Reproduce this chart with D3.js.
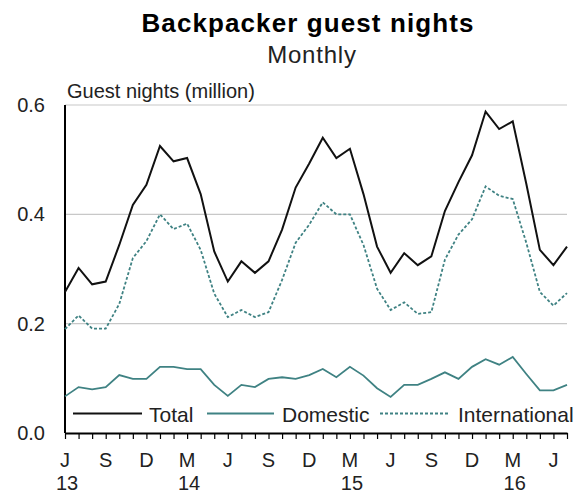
<!DOCTYPE html>
<html><head><meta charset="utf-8">
<script src="https://cdn.jsdelivr.net/npm/d3@7"></script>
<style>
html,body{margin:0;padding:0;background:#fff;}
svg{display:block;font-family:"Liberation Sans",Arial,sans-serif;}
</style></head>
<body>
<svg id="chart" width="576" height="495"></svg>
<script>
// Months from Jun 2013 to Jul 2016
const months = ["Jun 13","Jul 13","Aug 13","Sep 13","Oct 13","Nov 13","Dec 13","Jan 14","Feb 14","Mar 14","Apr 14","May 14",
 "Jun 14","Jul 14","Aug 14","Sep 14","Oct 14","Nov 14","Dec 14","Jan 15","Feb 15","Mar 15","Apr 15","May 15",
 "Jun 15","Jul 15","Aug 15","Sep 15","Oct 15","Nov 15","Dec 15","Jan 16","Feb 16","Mar 16","Apr 16","May 16",
 "Jun 16","Jul 16"];
const total = [0.258,0.302,0.272,0.277,0.344,0.417,0.454,0.525,0.497,0.503,0.437,0.332,
 0.277,0.314,0.293,0.314,0.372,0.449,0.493,0.540,0.503,0.520,0.437,0.341,
 0.293,0.329,0.307,0.323,0.406,0.459,0.508,0.588,0.556,0.570,0.456,0.335,
 0.307,0.341];
const domestic = [0.067,0.084,0.080,0.084,0.106,0.099,0.099,0.121,0.121,0.117,0.117,0.088,
 0.068,0.088,0.084,0.099,0.102,0.099,0.106,0.117,0.102,0.121,0.105,0.082,
 0.066,0.088,0.088,0.099,0.111,0.099,0.121,0.135,0.125,0.139,0.108,0.078,
 0.078,0.088];
const international = [0.190,0.215,0.191,0.191,0.236,0.320,0.351,0.400,0.373,0.383,0.335,0.255,
 0.212,0.225,0.212,0.221,0.280,0.348,0.381,0.422,0.400,0.400,0.344,0.264,
 0.225,0.239,0.218,0.221,0.317,0.363,0.391,0.451,0.434,0.428,0.348,0.258,
 0.233,0.256];
const yTicks = [0, 0.2, 0.4, 0.6];
const xTickLabels = ["J","S","D","M","J","S","D","M","J","S","D","M","J"];
const xTickIdx = [0,3,6,9,12,15,18,21,24,27,30,33,36];
const yearLabels = ["13","14","15","16"];
const yearIdx = [0,9,21,33];
const seriesNames = ["Total","Domestic","International"];

const svg = d3.select("#chart");
const L = 65, R = 567, T = 105, B = 433;
const x = d3.scaleLinear().domain([0, months.length - 1]).range([L, R]);
const y = d3.scaleLinear().domain([0, 0.6]).range([B, T]);

// title
svg.append("text").attr("x", 308).attr("y", 32).attr("text-anchor", "middle")
  .attr("font-size", 26).attr("font-weight", "bold").attr("letter-spacing", 1.1).attr("fill", "#000").text("Backpacker guest nights");
svg.append("text").attr("x", 312).attr("y", 63).attr("text-anchor", "middle")
  .attr("font-size", 24).attr("letter-spacing", 0.8).attr("fill", "#222").text("Monthly");
svg.append("text").attr("x", 67).attr("y", 98).attr("font-size", 20).attr("fill", "#222")
  .text("Guest nights (million)");

// gridlines
svg.append("g").selectAll("line").data(yTicks.filter(d => d > 0)).join("line")
  .attr("x1", L).attr("x2", R).attr("y1", d => y(d)).attr("y2", d => y(d))
  .attr("stroke", "#c8c8c8").attr("stroke-width", 1.2);

// y axis labels
const yAxis = d3.axisLeft(y).tickValues(yTicks).tickFormat(d3.format(".1f")).tickSize(0).tickPadding(20);
const gy = svg.append("g").attr("transform", `translate(${L},0)`).call(yAxis);
gy.select(".domain").remove();
gy.selectAll("text").attr("font-size", 20).attr("fill", "#222").attr("font-family", "Liberation Sans, Arial, sans-serif");
svg.append("line").attr("x1", L).attr("x2", L).attr("y1", T).attr("y2", B).attr("stroke", "#000").attr("stroke-width", 2);

// x axis
const xAxis = d3.axisBottom(x).tickValues(d3.range(months.length)).tickFormat("").tickSize(6).tickSizeOuter(0);
const gx = svg.append("g").attr("transform", `translate(0,${B})`).call(xAxis);
gx.select(".domain").attr("stroke", "#000").attr("stroke-width", 2);
gx.selectAll(".tick line").attr("stroke", "#000").attr("stroke-width", 1.2);

svg.append("g").selectAll("text").data(xTickIdx).join("text")
  .attr("x", d => x(d)).attr("y", 467).attr("text-anchor", "middle")
  .attr("font-size", 20).attr("fill", "#222").text((d, i) => xTickLabels[i]);
svg.append("g").selectAll("text").data(yearIdx).join("text")
  .attr("x", d => x(d) + 2).attr("y", 490).attr("text-anchor", "middle")
  .attr("font-size", 20).attr("fill", "#222").text((d, i) => yearLabels[i]);

// lines
const line = d3.line().x((d, i) => x(i)).y(d => y(d));
const teal = "#3f8283";
svg.append("path").datum(domestic).attr("d", line).attr("fill", "none").attr("stroke", teal).attr("stroke-width", 1.8);
svg.append("path").datum(international).attr("d", line).attr("fill", "none").attr("stroke", teal).attr("stroke-width", 1.8).attr("stroke-dasharray", "3,2");
svg.append("path").datum(total).attr("d", line).attr("fill", "none").attr("stroke", "#111").attr("stroke-width", 2);

// legend
const legend = [
  {name: seriesNames[0], x1: 73, x2: 142, tx: 149, color: "#111", dash: null},
  {name: seriesNames[1], x1: 207, x2: 274, tx: 282, color: teal, dash: null},
  {name: seriesNames[2], x1: 380, x2: 449, tx: 458, color: teal, dash: "3,2"}
];
const lg = svg.append("g");
legend.forEach(l => {
  lg.append("line").attr("x1", l.x1).attr("x2", l.x2).attr("y1", 413.5).attr("y2", 413.5)
    .attr("stroke", l.color).attr("stroke-width", 1.8).attr("stroke-dasharray", l.dash);
  lg.append("text").attr("x", l.tx).attr("y", 422).attr("font-size", 21).attr("fill", "#222").text(l.name);
});
</script>
</body></html>
